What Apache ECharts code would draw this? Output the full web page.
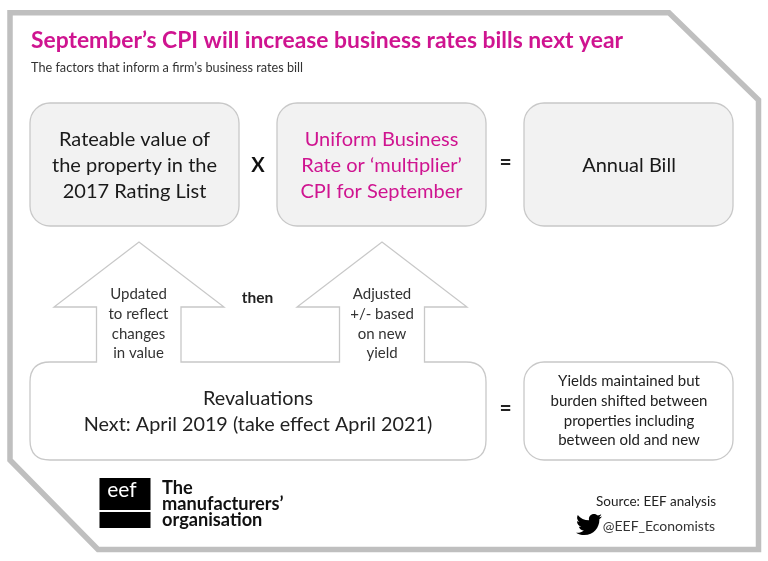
<!DOCTYPE html>
<html><head><meta charset="utf-8">
<style>html,body{margin:0;padding:0;background:#fff}#c{width:768px;height:561px}</style>
<script src="https://cdn.jsdelivr.net/npm/echarts@6/dist/echarts.min.js"></script>
</head><body><div id="c"></div>
<script>
var titleText = "September’s CPI will increase business rates bills next year";
var subtitleText = "The factors that inform a firm’s business rates bill";
var rateableLines = ["Rateable value of", "the property in the", "2017 Rating List"];
var uniformLines = ["Uniform Business", "Rate or ‘multiplier’", "CPI for September"];
var annualText = "Annual Bill";
var updatedLines = ["Updated", "to reflect", "changes", "in value"];
var adjustedLines = ["Adjusted", "+/- based", "on new", "yield"];
var revaluationLines = ["Revaluations", "Next: April 2019 (take effect April 2021)"];
var yieldLines = ["Yields maintained but", "burden shifted between", "properties including", "between old and new"];
var logoLines = ["The", "manufacturers’", "organisation"];
var sourceText = "Source: EEF analysis";
var handleText = "@EEF_Economists";

var FONT = "Lato, Carlito, Calibri, sans-serif";
var BIRD = "M23.953 4.57 C23.05 4.97 22.1 5.23 21.128 5.345 C22.15 4.73 22.92 3.77 23.291 2.622 C22.34 3.177 21.286 3.581 20.164 3.806 C18.36 1.88 15.33 1.78 13.4 3.58 C12.15 4.75 11.62 6.5 12.02 8.17 C7.69 8.095 4.067 6.13 1.64 3.162 C0.36 5.36 1.01 8.17 3.13 9.61 C2.35 9.59 1.59 9.38 0.934 9.117 L0.934 9.177 C0.934 11.5 2.6 13.51 4.88 14 C4.16 14.2 3.41 14.23 2.668 14.09 C3.31 16.08 5.15 17.46 7.27 17.5 C5.54 18.87 3.39 19.61 1.17 19.61 C0.78 19.61 0.39 19.59 0 19.54 C2.26 20.99 4.89 21.75 7.56 21.75 C16.61 21.75 21.56 14.25 21.56 7.77 C21.56 7.56 21.56 7.35 21.54 7.14 C22.5 6.44 23.34 5.58 24 4.59 Z";
var ARROWS = 'M50 362 L96.5 362 L96.5 307 L54 307 L139 242 L224 307 L181 307 L181 362 L339.5 362 L339.5 307 L297 307 L382 242 L467 307 L424.5 307 L424.5 362 L466 362 Q486 362 486 382 L486 440 Q486 460 466 460 L50 460 Q30 460 30 440 L30 382 Q30 362 50 362 Z';
var LINE = '#c8c8c8';

function T(str, x, y, size, o) {
  o = o || {};
  return {type: 'text', x: x, y: y, silent: true, z: 10, style: {
    text: str, font: (o.weight || 'normal') + ' ' + size + 'px ' + FONT,
    fill: o.color || '#1a1a1a', textAlign: o.align || 'center', textVerticalAlign: 'middle'
  }};
}
function block(lines, x, y0, lh, size, o) {
  return lines.map(function (s, i) { return T(s, x, y0 + i * lh, size, o); });
}
function box(x, y, w, h, fill) {
  return {type: 'rect', shape: {x: x, y: y, width: w, height: h, r: 20}, z: 2,
    style: {fill: fill, stroke: LINE, lineWidth: 1.3}};
}
var els = [
  {type: 'polygon', z: 1, shape: {points: [[10,12.8],[669,12.8],[758.5,100],[758.5,549.5],[98,549.5],[10,460]]},
    style: {fill: 'none', stroke: '#bfbfbf', lineWidth: 5.5, lineJoin: 'miter'}},
  box(30, 103, 209, 123, '#f2f2f2'),
  box(277, 103, 209, 123, '#f2f2f2'),
  box(524, 103, 209, 123, '#f2f2f2'),
  box(524, 362, 209, 98, '#fff'),
  {type: 'rect', z: 3, shape: {x: 99.5, y: 478, width: 51, height: 32}, style: {fill: '#000'}},
  {type: 'rect', z: 3, shape: {x: 99.5, y: 512, width: 51, height: 16}, style: {fill: '#000'}},
  T(titleText, 31, 41, 22.85, {align: 'left', weight: 'bold', color: '#cf1490'}),
  T(subtitleText, 31, 67.5, 12.7, {align: 'left', color: '#333'}),
  T('X', 258, 166, 20, {weight: 'bold', color: '#111'}),
  T('=', 505.5, 162.5, 21, {weight: 'bold', color: '#222'}),
  T('=', 505.5, 408.5, 21, {weight: 'bold', color: '#222'}),
  T('then', 257.5, 297.5, 15.5, {weight: 'bold', color: '#222'}),
  T(annualText, 629, 166, 20),
  T('eef', 122, 490, 21, {color: '#fff'}),
  T(sourceText, 716, 501.5, 13.5, {align: 'right', color: '#222'}),
  T(handleText, 715, 526.5, 14, {align: 'right', color: '#333'})
].concat(
  block(rateableLines, 134.5, 140, 26, 20),
  block(uniformLines, 381.5, 140, 26, 20, {color: '#cf1490'}),
  block(updatedLines, 138.5, 294.5, 19.7, 15, {color: '#333'}),
  block(adjustedLines, 382, 294.5, 19.7, 15, {color: '#333'}),
  block(revaluationLines, 258, 399, 26, 19.8, {color: '#222'}),
  block(yieldLines, 629, 381.5, 19.7, 15, {color: '#222'}),
  block(logoLines, 162, 488, 16, 18.2, {align: 'left', weight: 'bold', color: '#111'})
);
var chart = echarts.init(document.getElementById('c'), null, {width: 768, height: 561});
chart.setOption({
  animation: false, backgroundColor: '#fff',
  graphic: {elements: els},
  series: [{
    type: 'custom', coordinateSystem: 'none', silent: true, data: [0],
    renderItem: function () {
      return {type: 'group', children: [
        {type: 'path', shape: {pathData: ARROWS, x: 30, y: 242, width: 456, height: 218},
          style: {fill: 'none', stroke: LINE, lineWidth: 1.3}},
        {type: 'path', shape: {pathData: BIRD, x: 576, y: 513, width: 26, height: 23},
          style: {fill: '#000'}}
      ]};
    }
  }]
});
</script></body></html>
